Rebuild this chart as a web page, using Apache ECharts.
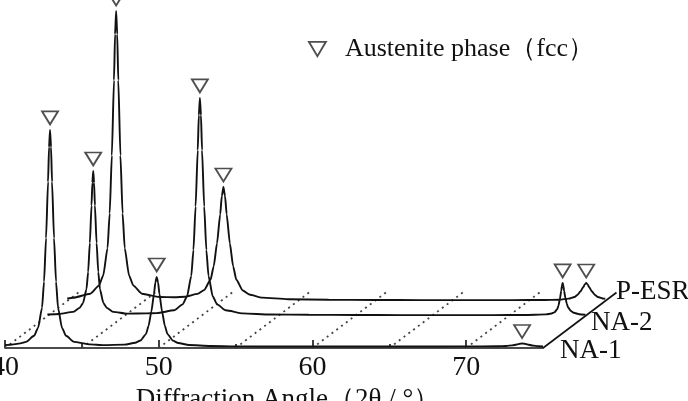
<!DOCTYPE html>
<html>
<head>
<meta charset="utf-8">
<script src="https://cdn.jsdelivr.net/npm/echarts@6/dist/echarts.min.js"></script>
<style>
	html, body { margin: 0; background: #fff; }
	#xrd-chart { width: 688px; height: 401px; }
</style>
</head>
<body>
<div id="xrd-chart"></div>
<script>
// sample names, front to back
var sampleNames = ['NA-1', 'NA-2', 'P-ESR'];

// XRD patterns [2theta, relative intensity]
var na1Pattern = [
	[40.00, 1.0], [40.33, 1.1], [41.00, 1.6], [41.37, 2.1], [41.89, 4.2], [42.15, 6.9],
	[42.41, 13.9], [42.54, 22.9], [42.67, 37.9], [42.80, 57.3], [42.865, 69.2], [42.93, 75.2],
	[42.995, 69.2], [43.06, 57.3], [43.19, 37.9], [43.32, 22.9], [43.45, 13.9], [43.71, 6.9],
	[43.97, 4.2], [44.49, 2.1], [45.53, 1.25], [46.40, 1.0], [47.77, 1.15], [48.47, 1.8],
	[48.82, 2.6], [49.17, 4.8], [49.345, 7.7], [49.52, 12.5], [49.695, 18.7], [49.78, 22.6],
	[49.87, 24.5], [49.96, 22.6], [50.045, 18.7], [50.22, 12.5], [50.395, 7.7], [50.57, 4.8],
	[50.92, 2.55], [51.27, 1.7], [51.97, 1.03], [53.37, 0.7], [55, 0.55], [58, 0.5], [61, 0.55],
	[64, 0.5], [67, 0.5], [70, 0.55], [72, 0.6], [72.6, 0.7], [73.0, 0.9], [73.3, 1.2],
	[73.5, 1.45], [73.64, 1.55], [73.8, 1.45], [74.0, 1.2], [74.3, 0.85], [74.7, 0.6], [75.0, 0.5]
];
var na2Pattern = [
	[40.00, 0.5], [40.78, 0.7], [41.66, 1.4], [42.10, 2.8], [42.32, 4.5], [42.54, 9.2],
	[42.65, 15.2], [42.76, 25.15], [42.87, 38.1], [42.925, 46.0], [42.98, 50.0], [43.035, 46.0],
	[43.09, 38.1], [43.20, 25.15], [43.31, 15.2], [43.42, 9.2], [43.64, 4.5], [43.86, 2.8],
	[44.30, 1.4], [45.18, 0.8], [46.45, 0.9], [47.12, 1.0], [48.24, 1.95], [48.80, 4.0],
	[49.08, 6.7], [49.36, 13.8], [49.50, 22.8], [49.64, 37.75], [49.78, 57.2], [49.85, 69.2],
	[49.92, 75.2], [49.99, 69.2], [50.06, 57.2], [50.20, 37.75], [50.34, 22.8], [50.48, 13.8],
	[50.76, 6.7], [51.04, 4.0], [51.60, 1.95], [52.72, 0.9], [54.5, 0.5], [57, 0.4], [60, 0.35],
	[63, 0.3], [66, 0.3], [69, 0.3], [71, 0.35], [72.44, 0.54], [72.80, 0.85], [72.98, 1.24],
	[73.16, 2.3], [73.25, 3.6], [73.34, 5.85], [73.43, 8.7], [73.475, 10.5], [73.52, 11.4],
	[73.565, 10.5], [73.61, 8.7], [73.70, 6.2], [73.79, 4.2], [73.88, 2.9], [74.06, 1.7],
	[74.24, 1.1], [74.60, 0.6], [75.0, 0.4]
];
var pesrPattern = [
	[40.00, 0.85], [40.38, 1.1], [41.50, 2.5], [42.06, 5.3], [42.34, 8.8], [42.62, 18.2],
	[42.76, 30.2], [42.90, 50.15], [43.04, 76.1], [43.11, 92.0], [43.18, 100], [43.25, 92.0],
	[43.32, 76.1], [43.46, 50.15], [43.60, 30.2], [43.74, 18.2], [44.02, 8.8], [44.30, 5.3],
	[44.86, 2.5], [46.0, 1.4], [47.0, 1.3], [47.64, 1.45], [48.48, 2.45], [48.90, 3.75],
	[49.32, 7.3], [49.53, 12.0], [49.74, 19.8], [49.95, 29.9], [50.055, 36.2], [50.16, 39.3],
	[50.265, 36.2], [50.37, 29.9], [50.58, 19.8], [50.79, 12.0], [51.00, 7.3], [51.42, 3.6],
	[51.84, 2.25], [52.68, 1.16], [54.36, 0.61], [57, 0.45], [60, 0.35], [63, 0.3], [66, 0.3],
	[69, 0.3], [71, 0.35], [72.0, 0.45], [72.62, 0.8], [73.0, 1.36], [73.19, 2.07], [73.38, 3.25],
	[73.57, 4.8], [73.665, 5.7], [73.76, 6.2], [73.855, 5.7], [73.95, 4.8], [74.14, 3.25],
	[74.33, 2.07], [74.52, 1.36], [74.90, 0.8], [75.0, 0.75]
];

// austenite (fcc) peaks marked with a triangle
var na1Peaks = [[42.93, 75.2], [49.87, 24.5], [73.64, 1.55]];
var na2Peaks = [[42.98, 50.0], [49.92, 75.2], [73.52, 11.4]];
var pesrPeaks = [[43.18, 100], [50.16, 39.3], [73.76, 6.2]];

// axis ticks
var majorTicks = [40, 50, 60, 70];
var minorTicks = [45, 55, 65];
var depthGridTicks = [40, 45, 50, 55, 60, 65, 70];
var depthAxisAt = [75];

var legendName = 'Austenite phase\uFF08fcc\uFF09';
var axisTitle = 'Diffraction Angle\uFF082\u03B8 / \u00B0\uFF09';

// layout of the pseudo-3D stack
var FONT = "'Liberation Serif', 'DejaVu Serif', serif";
var INK = '#111';
var PX_PER_UNIT = 2.9;
var FRONT_LEFT = 5, FRONT_BASE = 348, PLOT_W = 538;
var DEPTH = [73.5, -55.5];
var depthFrac = [0, 0.577, 0.847];
var TRI = 'path://M0,0L20,0L10,17Z';

var chart = echarts.init(document.getElementById('xrd-chart'));

var grids = [], xAxes = [], yAxes = [];
depthFrac.forEach(function (f, i) {
	var base = FRONT_BASE + f * DEPTH[1];
	grids.push({
		left: FRONT_LEFT + f * DEPTH[0], top: 0, width: PLOT_W, height: base,
		outerBoundsMode: 'none', containLabel: false
	});
	xAxes.push({
		gridIndex: i, type: 'value', min: 40, max: 75, interval: 10,
		show: i === 0,
		axisLine: { lineStyle: { color: INK, width: 1.6 } },
		axisTick: { inside: true, length: 8, customValues: majorTicks, lineStyle: { color: INK, width: 1.6 } },
		axisLabel: { customValues: majorTicks, color: INK, fontSize: 28, fontFamily: FONT, margin: 6 },
		splitLine: { show: false },
		name: i === 0 ? axisTitle : '',
		nameLocation: 'middle',
		nameGap: 37,
		nameTextStyle: { color: INK, fontSize: 27, fontFamily: FONT, padding: [0, 0, 0, 28] }
	});
	yAxes.push({ gridIndex: i, type: 'value', min: 0, max: base / PX_PER_UNIT, show: false });
});
// short minor ticks on the front axis
xAxes.push({
	gridIndex: 0, type: 'value', min: 40, max: 75, interval: 5, position: 'bottom',
	axisLine: { show: false },
	axisTick: { inside: true, length: 4, customValues: minorTicks, lineStyle: { color: INK, width: 1.6 } },
	axisLabel: { show: false },
	splitLine: { show: false }
});

function depthLine(dashed) {
	return function (params, api) {
		var p = api.coord([api.value(0), 0]);
		return {
			type: 'line',
			shape: { x1: p[0], y1: p[1], x2: p[0] + DEPTH[0], y2: p[1] + DEPTH[1] },
			style: dashed
				? { stroke: '#444', lineWidth: 1.8, lineDash: [2, 4] }
				: { stroke: INK, lineWidth: 1.6 }
		};
	};
}

var patterns = [na1Pattern, na2Pattern, pesrPattern];
var peaks = [na1Peaks, na2Peaks, pesrPeaks];
var labelOffsets = [[17, 4.5], [5.6, 7.7], [10.7, -7.1]];

var series = [
	{
		type: 'custom', xAxisIndex: 0, yAxisIndex: 0, z: 1, silent: true,
		renderItem: depthLine(true),
		data: depthGridTicks.map(function (t) { return [t, 0]; })
	},
	{
		type: 'custom', xAxisIndex: 0, yAxisIndex: 0, z: 1, silent: true,
		renderItem: depthLine(false),
		data: depthAxisAt.map(function (t) { return [t, 0]; })
	}
];
patterns.forEach(function (data, i) {
	series.push({
		name: sampleNames[i], type: 'line', xAxisIndex: i, yAxisIndex: i, z: 3,
		data: data, showSymbol: false, smooth: 0.2, smoothMonotone: 'x',
		lineStyle: { color: INK, width: 1.9 },
		endLabel: {
			show: true, formatter: '{a}', distance: 0, offset: labelOffsets[i],
			color: INK, fontSize: 27, fontFamily: FONT
		}
	});
	series.push({
		name: legendName, type: 'scatter', xAxisIndex: i, yAxisIndex: i, z: 4, clip: false,
		data: peaks[i], symbol: TRI, symbolSize: [16, 13], symbolOffset: [0, -12],
		itemStyle: { color: '#fff', borderColor: '#222', borderWidth: 1.8 }
	});
});

var option = {
	animation: false,
	backgroundColor: '#fff',
	legend: {
		data: [{ name: legendName, icon: TRI }],
		left: 303, top: 31, itemWidth: 17, itemHeight: 15, selectedMode: false,
		itemStyle: { color: '#fff', borderColor: '#222', borderWidth: 1.8 },
		textStyle: { color: INK, fontSize: 26, fontFamily: FONT, padding: [0, 0, 0, 14] }
	},
	grid: grids,
	xAxis: xAxes,
	yAxis: yAxes,
	series: series
};
chart.setOption(option);
</script>
</body>
</html>
